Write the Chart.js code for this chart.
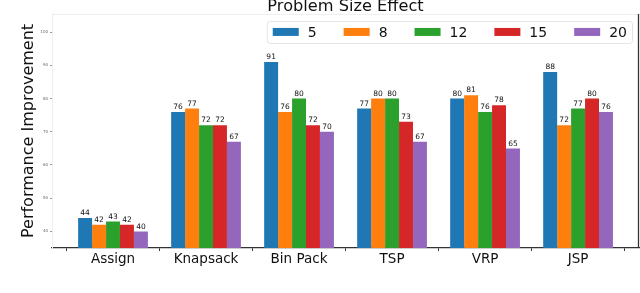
<!DOCTYPE html>
<html>
<head>
<meta charset="utf-8">
<script src="https://cdn.jsdelivr.net/npm/chart.js@4/dist/chart.umd.min.js"></script>
<style>
  html, body { margin: 0; padding: 0; background: #fff; }
  #wrap { width: 640px; height: 293px; }
</style>
</head>
<body>
<div id="wrap"><canvas id="chart"></canvas></div>
<script>
// problem types along the x axis
var categories = ["Assign", "Knapsack", "Bin Pack", "TSP", "VRP", "JSP"];
// problem sizes (legend)
var sizes = ["5", "8", "12", "15", "20"];
// performance improvement per size, one array per series
var size5 = [44, 76, 91, 77, 80, 88];
var size8 = [42, 77, 76, 80, 81, 72];
var size12 = [43, 72, 80, 80, 76, 77];
var size15 = [42, 72, 72, 73, 78, 80];
var size20 = [40, 67, 70, 67, 65, 76];
var yTicks = [40, 50, 60, 70, 80, 90, 100];

var colors = ["#1f77b4", "#ff7f0e", "#2ca02c", "#d62728", "#9467bd"];
var series = [size5, size8, size12, size15, size20];
var FONT = "'DejaVu Sans', sans-serif";

var datasets = series.map(function (vals, i) {
	return {
		label: sizes[i],
		data: vals.map(function (v, j) { return { x: j, y: v }; }),
		backgroundColor: colors[i],
		borderWidth: 0,
		categoryPercentage: 0.75,
		barPercentage: 1.0,
	};
});

// numbers above each bar
var valueLabels = {
	id: "valueLabels",
	afterDatasetsDraw: function (chart) {
		var ctx = chart.ctx;
		ctx.save();
		ctx.font = "7.5px " + FONT;
		ctx.textAlign = "center";
		ctx.textBaseline = "bottom";
		chart.data.datasets.forEach(function (ds, i) {
			var meta = chart.getDatasetMeta(i);
			meta.data.forEach(function (bar, j) {
				var txt = String(ds.data[j].y);
				var w = ctx.measureText(txt).width;
				ctx.fillStyle = "rgba(255,255,255,0.8)";
				ctx.fillRect(bar.x - w / 2 - 1, bar.y - 9, w + 2, 8);
				ctx.fillStyle = "#111";
				ctx.fillText(txt, bar.x, bar.y - 1);
			});
		});
		ctx.restore();
	},
};

// top / right frame lines and the boxed legend inside the plot
var frame = {
	id: "frame",
	afterDraw: function (chart) {
		var a = chart.chartArea;
		var ctx = chart.ctx;
		ctx.save();
		ctx.lineWidth = 1;
		ctx.strokeStyle = "#eeeeee";
		ctx.beginPath();
		ctx.moveTo(a.left, a.top + 0.5);
		ctx.lineTo(a.right, a.top + 0.5);
		ctx.stroke();
		ctx.strokeStyle = "#333";
		ctx.lineWidth = 1.3;
		ctx.beginPath();
		ctx.moveTo(a.right - 0.5, a.top);
		ctx.lineTo(a.right - 0.5, a.bottom);
		ctx.stroke();

		// legend, right aligned inside the plot
		ctx.font = "14px " + FONT;
		var ds = chart.data.datasets;
		var boxW = 26, boxH = 8, gap = 9, spacing = 27;
		var widths = ds.map(function (d) { return boxW + gap + ctx.measureText(d.label).width; });
		var total = widths.reduce(function (s, w) { return s + w; }, 0) + spacing * (ds.length - 1);
		var x = a.right - 12 - total;
		var cy = a.top + 18;
		ctx.strokeStyle = "#e3e3e3";
		ctx.lineWidth = 1;
		ctx.fillStyle = "rgba(255,255,255,0.8)";
		ctx.beginPath();
		ctx.roundRect(x - 5.5, cy - 10.5, total + 11, 22, 3);
		ctx.fill();
		ctx.stroke();
		ctx.textBaseline = "middle";
		ctx.textAlign = "left";
		ds.forEach(function (d, i) {
			ctx.fillStyle = d.backgroundColor;
			ctx.fillRect(x, cy - boxH / 2, boxW, boxH);
			ctx.fillStyle = "#111";
			ctx.fillText(d.label, x + boxW + gap, cy + 1);
			x += widths[i] + spacing;
		});
		ctx.restore();
	},
};

new Chart(document.getElementById("chart"), {
	type: "bar",
	data: { datasets: datasets },
	options: {
		responsive: true,
		maintainAspectRatio: false,
		animation: false,
		layout: { padding: { top: 0, right: 1, bottom: 0, left: 0 } },
		plugins: {
			title: {
				display: true,
				text: "Problem Size Effect",
				fullSize: false,
				color: "#111",
				font: { family: FONT, size: 16.2, weight: "normal" },
				padding: { top: -3, bottom: -2.5 },
			},
			legend: { display: false },
			tooltip: { enabled: false },
		},
		scales: {
			x: {
				type: "linear",
				offset: false,
				min: -0.656,
				max: 5.655,
				afterBuildTicks: function (scale) {
					scale.ticks = categories.map(function (c, i) { return { value: i }; });
				},
				afterFit: function (scale) { scale.height = 45; },
				ticks: {
					autoSkip: false,
					maxRotation: 0,
					padding: 0,
					color: "#111",
					font: { family: FONT, size: 13.5 },
					callback: function (v) { return categories[v]; },
				},
				grid: { drawOnChartArea: false, tickLength: 3, color: "#333" },
				border: { color: "#333", width: 1.3 },
			},
			y: {
				min: 35,
				max: 105.5,
				afterBuildTicks: function (scale) {
					scale.ticks = yTicks.map(function (v) { return { value: v }; });
				},
				afterFit: function (scale) { scale.width = 52; },
				ticks: {
					padding: 2,
					color: "#666",
					font: { family: FONT, size: 4 },
				},
				grid: { drawOnChartArea: false, tickLength: 2, color: "#999" },
				border: { color: "#eeeeee", width: 1 },
				title: {
					display: true,
					text: "Performance Improvement",
					color: "#111",
					font: { family: FONT, size: 16 },
					padding: { top: 19, bottom: 0 },
				},
			},
		},
	},
	plugins: [valueLabels, frame],
});
</script>
</body>
</html>
